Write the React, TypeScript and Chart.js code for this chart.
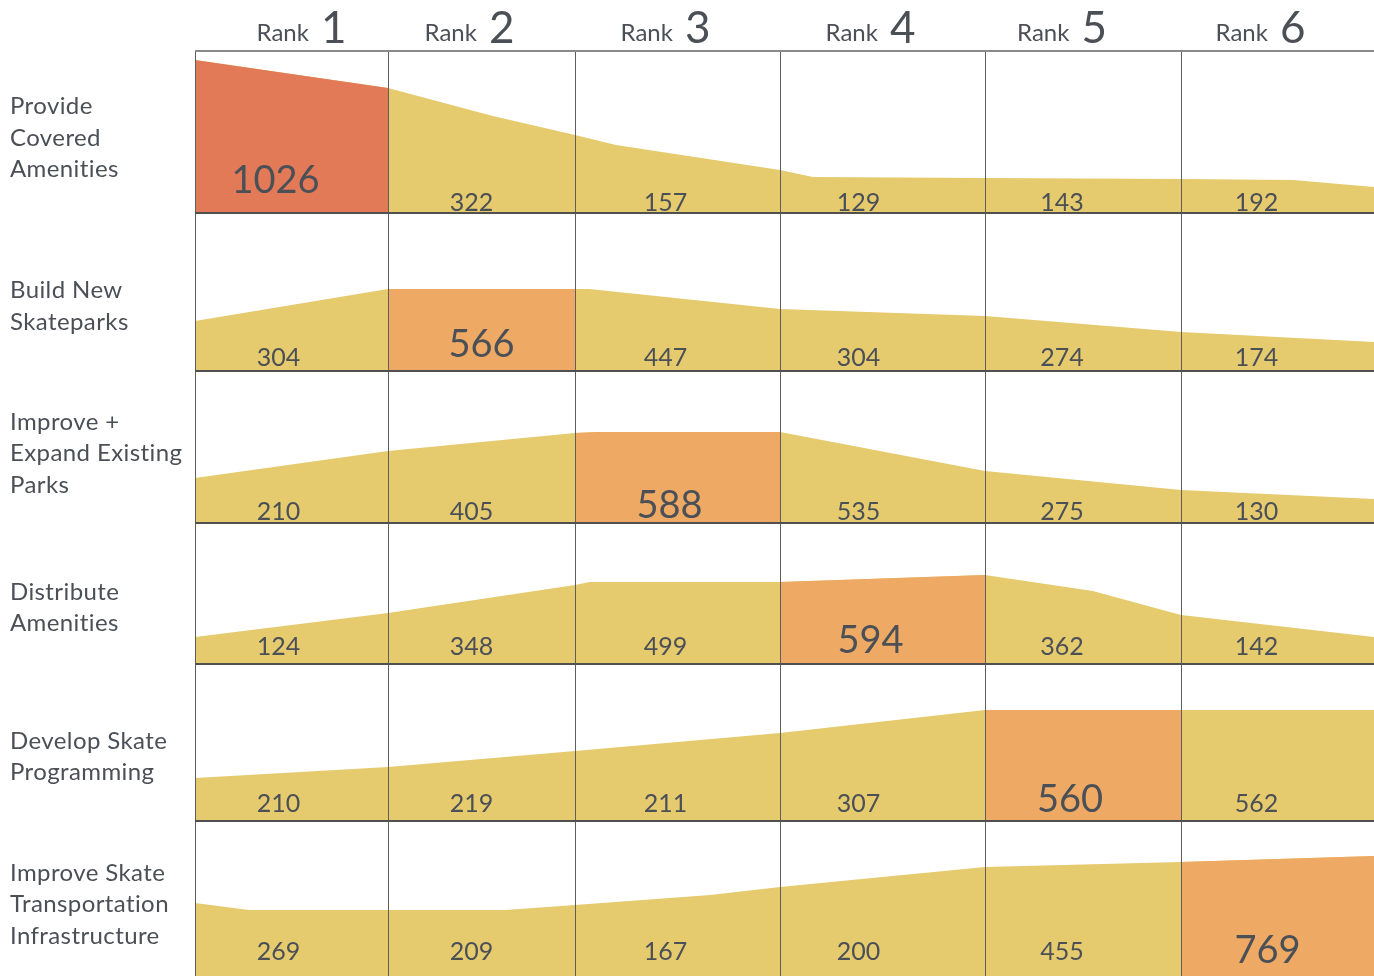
import React, { useEffect, useRef } from 'react';
import { Chart, registerables } from 'chart.js';

Chart.register(...registerables);

// ---------- data ----------
const rankLabels = ['1', '2', '3', '4', '5', '6'];

const priorityLabels = [
  ['Provide', 'Covered', 'Amenities'],
  ['Build New', 'Skateparks'],
  ['Improve +', 'Expand Existing', 'Parks'],
  ['Distribute', 'Amenities'],
  ['Develop Skate', 'Programming'],
  ['Improve Skate', 'Transportation', 'Infrastructure'],
];

const provideCoveredAmenities = [1026, 322, 157, 129, 143, 192];
const buildNewSkateparks = [304, 566, 447, 304, 274, 174];
const improveExpandParks = [210, 405, 588, 535, 275, 130];
const distributeAmenities = [124, 348, 499, 594, 362, 142];
const developSkateProgramming = [210, 219, 211, 307, 560, 562];
const improveSkateTransportation = [269, 209, 167, 200, 455, 769];

const rowValues = [
  provideCoveredAmenities,
  buildNewSkateparks,
  improveExpandParks,
  distributeAmenities,
  developSkateProgramming,
  improveSkateTransportation,
];

// rank that is highlighted in each row
const highlightRanks = [1, 2, 3, 4, 5, 6];

// area envelopes: [rank position, height]
const envProvide = [[0, 154], [1, 126], [1.56, 98], [2, 79], [2.2, 69], [3, 44], [3.16, 37], [4, 36], [5, 35], [5.58, 34], [6, 27]];
const envBuild = [[0, 51], [1, 83], [2.07, 83], [3, 63], [4, 56], [5, 40], [6, 30]];
const envImprove = [[0, 46], [1, 73], [2, 91], [2.11, 92], [3, 92], [4, 53], [5, 34], [6, 25]];
const envDistribute = [[0, 28], [1, 52], [2, 80], [2.07, 83], [3, 83], [4, 90], [4.55, 74], [5, 50], [6, 28]];
const envDevelop = [[0, 44], [1, 55], [2, 71], [3, 89], [4, 112], [6, 112]];
const envTransport = [[0, 73], [0.28, 66], [1.63, 66], [2, 71], [2.66, 81], [3, 89], [4, 109], [5, 114], [6, 120]];

const envelopes = [envProvide, envBuild, envImprove, envDistribute, envDevelop, envTransport];

// ---------- layout / styles ----------
const COLUMN_WIDTHS = [193, 187, 205, 205, 196, 193];
const ROW_AREA_HEIGHTS = [163, 158, 152, 141, 157, 154];
const HEADER_H = 51;
const LEFT_W = 195;
const YELLOW = '#E6CA6E';
const ORANGE = '#EEA964';
const RED = '#E27A58';
const TEXT = '#4B5057';
const GRID = '#5E5E5E';
const ROWLINE = '#505050';
const TOPLINE = '#8A8A8A';
const FONT = 'Lato, "Open Sans", sans-serif';
const SMALL_OFF = [3, 6, 4, 10, 10, 16];
const BIG_OFF = [21, 15, 6, 12, 10, 13];
const HEADER_SHIFT = [10, -12, -12, -12, -21, -17];
const SMALL_SHIFT = [-13, -10, -12, -24, -21, -21];
const BIG_SHIFT = [-16, 0, -8, -12, -13, -10];

const COLUMN_EDGES = COLUMN_WIDTHS.reduce((acc, w) => {
  acc.push(acc[acc.length - 1] + w);
  return acc;
}, [0] as number[]);
const TOTAL_W = COLUMN_EDGES[COLUMN_EDGES.length - 1];

// rank-position (0..6) -> value on the x scale
function rankToScale(r: number) {
  const i = Math.min(Math.floor(r), COLUMN_WIDTHS.length - 1);
  return COLUMN_EDGES[i] + (r - i) * COLUMN_WIDTHS[i];
}

function clipSegment(pts: number[][], a: number, b: number) {
  const interp = (t: number) => {
    for (let i = 0; i < pts.length - 1; i++) {
      const [x0, y0] = pts[i];
      const [x1, y1] = pts[i + 1];
      if (t >= x0 && t <= x1) return x1 === x0 ? y0 : y0 + ((y1 - y0) * (t - x0)) / (x1 - x0);
    }
    return pts[pts.length - 1][1];
  };
  const out = [{ x: rankToScale(a), y: interp(a) }];
  pts.forEach(([x, y]) => {
    if (x > a && x < b) out.push({ x: rankToScale(x), y });
  });
  out.push({ x: rankToScale(b), y: interp(b) });
  return out;
}

const decorPlugin = {
  id: 'rowDecor',
  afterDatasetsDraw(chart: any, _args: any, opts: any) {
    const { ctx, chartArea: a, scales } = chart;
    const x = scales.x;
    const r: number = opts.row;
    const last = rowValues.length - 1;
    ctx.save();
    // vertical grid lines
    ctx.fillStyle = GRID;
    for (let i = 0; i < rankLabels.length; i++) {
      const px = Math.round(x.getPixelForValue(rankToScale(i)));
      ctx.fillRect(px, a.top, 1, a.bottom - a.top);
    }
    if (r === 0) {
      ctx.fillStyle = TOPLINE;
      ctx.fillRect(a.left, a.top - 1, a.right - a.left, 2);
    }
    if (r < last) {
      ctx.fillStyle = ROWLINE;
      ctx.fillRect(a.left, a.bottom - 2, a.right - a.left, 2);
    }
    // values
    ctx.fillStyle = TEXT;
    ctx.textAlign = 'center';
    ctx.textBaseline = 'alphabetic';
    rowValues[r].forEach((v, i) => {
      const big = i + 1 === highlightRanks[r];
      ctx.font = big ? `38px ${FONT}` : `25px ${FONT}`;
      const px = x.getPixelForValue(rankToScale(i + 0.5) + (big ? BIG_SHIFT[i] : SMALL_SHIFT[i]));
      const py = a.bottom - (big ? BIG_OFF[r] : SMALL_OFF[r]);
      ctx.fillText(String(v), px, py);
    });
    // row label
    const lines = priorityLabels[r];
    ctx.textAlign = 'left';
    ctx.font = `24px ${FONT}`;
    (ctx as any).letterSpacing = '0.4px';
    const mid = (a.top + a.bottom) / 2 + (lines.length === 3 ? 5 : 13);
    const lh = 31.5;
    lines.forEach((t, k) => {
      const cy = mid + (k - (lines.length - 1) / 2) * lh;
      ctx.fillText(t, 10, cy + 8);
    });
    (ctx as any).letterSpacing = '0px';
    // header
    if (r === 0) {
      rankLabels.forEach((d, i) => {
        const cx = x.getPixelForValue(rankToScale(i + 0.5) + HEADER_SHIFT[i]);
        ctx.font = `24px ${FONT}`;
        const wR = ctx.measureText('Rank').width;
        ctx.font = `44px ${FONT}`;
        const wD = ctx.measureText(d).width;
        const gap = 12;
        const start = cx - (wR + gap + wD) / 2;
        ctx.textAlign = 'left';
        ctx.font = `24px ${FONT}`;
        ctx.fillText('Rank', start, 41);
        ctx.font = `44px ${FONT}`;
        ctx.fillText(d, start + wR + gap, 43);
      });
    }
    ctx.restore();
  },
};

function RowChart({ index }: { index: number }) {
  const ref = useRef<HTMLCanvasElement>(null);
  const topPad = index === 0 ? HEADER_H : 0;
  const areaH = ROW_AREA_HEIGHTS[index];
  const h = areaH + topPad;
  useEffect(() => {
    if (!ref.current) return;
    const env = envelopes[index];
    const hl = highlightRanks[index];
    const chart = new Chart(ref.current, {
      type: 'line',
      data: {
        datasets: [
          {
            data: clipSegment(env, hl - 1, hl),
            fill: 'origin',
            backgroundColor: index === 0 ? RED : ORANGE,
            borderColor: 'transparent',
            borderWidth: 0,
            pointRadius: 0,
            tension: 0,
            order: 0,
          },
          {
            data: env.map(([px, py]) => ({ x: rankToScale(px), y: py })),
            fill: 'origin',
            backgroundColor: YELLOW,
            borderColor: 'transparent',
            borderWidth: 0,
            pointRadius: 0,
            tension: 0,
            order: 1,
          },
        ],
      },
      options: {
        animation: false,
        responsive: false,
        events: [],
        layout: { padding: { left: LEFT_W, top: topPad, right: 0, bottom: 0 } },
        scales: {
          x: { type: 'linear', min: 0, max: TOTAL_W, display: false },
          y: { type: 'linear', min: 0, max: areaH, display: false },
        },
        plugins: {
          legend: { display: false },
          tooltip: { enabled: false },
          rowDecor: { row: index },
        } as any,
      },
      plugins: [decorPlugin],
    });
    return () => chart.destroy();
  }, [index]);
  return (
    <canvas
      ref={ref}
      width={1374}
      height={h}
      style={{ display: 'block', width: 1374, height: h }}
    />
  );
}

export default function App() {
  return (
    <div
      style={{
        position: 'absolute',
        left: 0,
        top: 0,
        width: 1374,
        height: 976,
        overflow: 'hidden',
        background: '#ffffff',
      }}
    >
      {rowValues.map((_, i) => (
        <RowChart key={i} index={i} />
      ))}
    </div>
  );
}
